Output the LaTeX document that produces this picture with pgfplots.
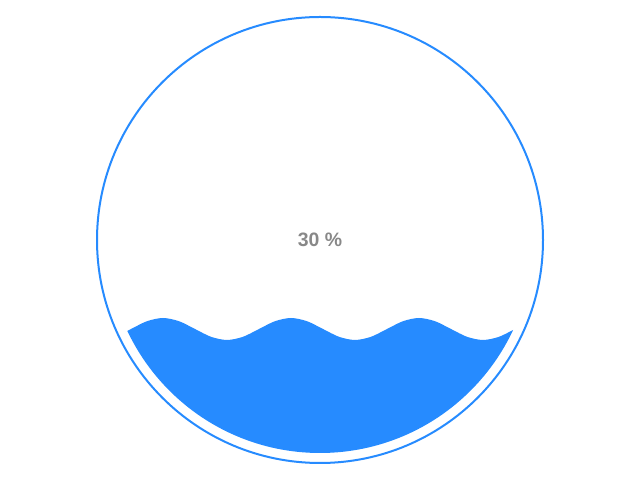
\documentclass[border=0pt]{standalone}
\usepackage{pgfplots}
\pgfplotsset{compat=1.18}
\usepackage{fontspec}
\setmainfont{Liberation Sans}
\definecolor{liquid}{RGB}{38,139,255}
\definecolor{txtgray}{RGB}{136,136,136}
\begin{document}
\begin{tikzpicture}
\begin{axis}[
  x=1bp, y=1bp,
  xmin=0, xmax=640, ymin=0, ymax=480,
  hide axis,
  clip=false,
]
\path (axis cs:0,0) rectangle (axis cs:640,480);
\begin{scope}
\clip (axis cs:320,240) circle[radius=213];
\addplot[fill=liquid, draw=none, smooth] coordinates {
(99,140)(115,143.2)(131,151)(147,158.8)(163,162)(179,158.8)(195,151)(211,143.2)
(227,140)(243,143.2)(259,151)(275,158.8)(291,162)(307,158.8)(323,151)(339,143.2)
(355,140)(371,143.2)(387,151)(403,158.8)(419,162)(435,158.8)(451,151)(467,143.2)
(483,140)(499,143.2)(515,151)(531,158.8)(547,162)
} \closedcycle;
\end{scope}
\draw[liquid, line width=2bp] (axis cs:320,240) circle[radius=223];
\node[text=txtgray, font=\fontsize{19.5}{23}\selectfont\bfseries] at (axis cs:320,240) {30 \%};
\end{axis}
\end{tikzpicture}
\end{document}
